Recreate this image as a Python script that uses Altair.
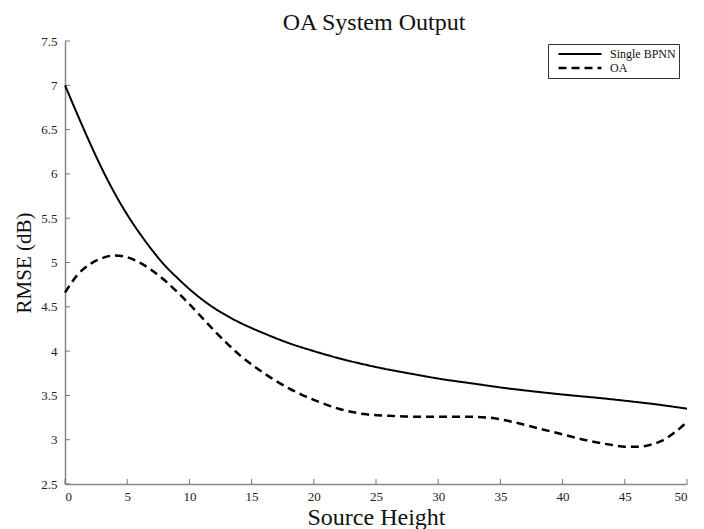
import altair as alt
import pandas as pd

# ---- data ----
x_bpnn = [0, 1, 2, 3, 4, 5, 6, 7, 8, 9, 10, 11, 12, 13, 14, 15, 16, 18, 20, 22, 25,
          28, 30, 33, 35, 38, 40, 43, 45, 48, 50]
y_bpnn = [7.00, 6.67, 6.35, 6.05, 5.78, 5.54, 5.33, 5.14, 4.97, 4.83, 4.70, 4.585,
          4.485, 4.40, 4.325, 4.26, 4.20, 4.09, 4.00, 3.92, 3.82, 3.74, 3.69, 3.63,
          3.59, 3.54, 3.51, 3.47, 3.44, 3.39, 3.35]

x_oa = [0, 1, 2, 3, 4, 5, 6, 7, 8, 9, 10, 11, 12, 13, 14, 15, 16, 17, 18, 19, 20,
        22, 24, 26, 28, 30, 32, 34, 35, 36, 38, 40, 42, 44, 45, 46, 47, 48, 49, 50]
y_oa = [4.66, 4.86, 4.98, 5.05, 5.08, 5.06, 5.00, 4.91, 4.80, 4.67, 4.53, 4.38,
        4.23, 4.09, 3.96, 3.85, 3.75, 3.66, 3.58, 3.51, 3.45, 3.35, 3.29, 3.27,
        3.26, 3.26, 3.26, 3.25, 3.23, 3.20, 3.13, 3.06, 2.99, 2.94, 2.92, 2.92,
        2.94, 2.99, 3.08, 3.20]

series_names = ["Single BPNN", "OA"]
x_ticks = [0, 5, 10, 15, 20, 25, 30, 35, 40, 45, 50]
y_ticks = [2.5, 3, 3.5, 4, 4.5, 5, 5.5, 6, 6.5, 7, 7.5]

W, H = 622, 443
X_DOM = [0, 50]
Y_DOM = [2.5, 7.5]
TICK_PX = 5
FONT = "Liberation Serif"

df = pd.concat([
    pd.DataFrame({"x": x_bpnn, "y": y_bpnn, "series": series_names[0]}),
    pd.DataFrame({"x": x_oa, "y": y_oa, "series": series_names[1]}),
])

xs = alt.Scale(domain=X_DOM, nice=False, zero=False)
ys = alt.Scale(domain=Y_DOM, nice=False, zero=False)

lines = alt.Chart(df).mark_line(color="black", interpolate="monotone").encode(
    x=alt.X("x:Q", scale=xs, axis=alt.Axis(values=x_ticks, title="Source Height",
                                           labelPadding=6, titlePadding=2)),
    y=alt.Y("y:Q", scale=ys, axis=alt.Axis(values=y_ticks, format="~g", title="RMSE (dB)",
                                           labelPadding=8, titlePadding=6,
                                           titleFontSize=21)),
    strokeDash=alt.StrokeDash(
        "series:N",
        scale=alt.Scale(domain=series_names, range=[[1, 0], [8, 5]]),
        legend=alt.Legend(
            title=None, orient="none", legendX=483, legendY=3,
            symbolType="stroke", symbolSize=1849, symbolStrokeWidth=2,
            symbolStrokeColor="black", symbolOffset=6,
            labelFont=FONT, labelFontSize=12,
            labelColor="#111", labelOffset=7, rowPadding=0, padding=3,
            clipHeight=14,
            fillColor="white", strokeColor="#333", cornerRadius=0,
        ),
    ),
    strokeWidth=alt.StrokeWidth("series:N", scale=alt.Scale(domain=series_names, range=[2, 2.5]),
                                legend=None),
    order=alt.Order("x:Q"),
)

ylen = (Y_DOM[1] - Y_DOM[0]) * TICK_PX / H
xlen = (X_DOM[1] - X_DOM[0]) * TICK_PX / W

xtick_rules = alt.Chart(pd.DataFrame({"x": x_ticks})).mark_rule(color="#777", strokeWidth=1).encode(
    x=alt.X("x:Q", scale=xs), y=alt.datum(Y_DOM[0]), y2=alt.datum(Y_DOM[0] + ylen))
ytick_rules = alt.Chart(pd.DataFrame({"y": y_ticks})).mark_rule(color="#777", strokeWidth=1).encode(
    y=alt.Y("y:Q", scale=ys), x=alt.datum(X_DOM[0]), x2=alt.datum(X_DOM[0] + xlen))

chart = alt.layer(xtick_rules, ytick_rules, lines).properties(
    width=W, height=H, background="white",
    title=alt.TitleParams("OA System Output", font=FONT, fontSize=24, fontWeight="normal",
                          color="#111", anchor="middle", dx=-2, offset=0),
    padding={"left": 5, "top": 3, "right": 0, "bottom": 0},
).configure_axis(
    domainColor="#888", domainWidth=1.5, tickSize=0, grid=False,
    labelFont=FONT, labelFontSize=13, labelColor="#222",
    titleFont=FONT, titleFontSize=24, titleFontWeight="normal", titleColor="#111",
).configure_view(stroke=None)

chart.save("out.html", embed_options={"renderer": "svg", "actions": False})
